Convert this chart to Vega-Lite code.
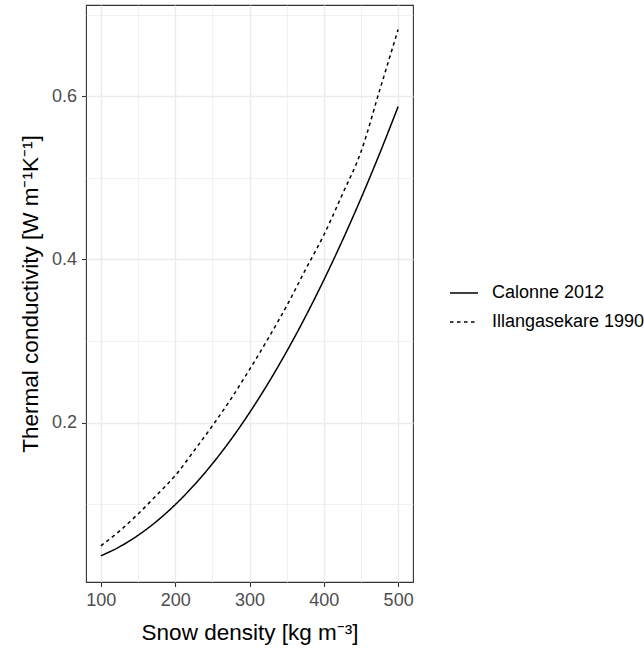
{
  "$schema": "https://vega.github.io/schema/vega-lite/v6.json",
  "width": 327,
  "height": 577,
  "autosize": {"type": "none"},
  "padding": {"left": 86, "top": 5, "right": 231, "bottom": 67},
  "background": "white",
  "config": {
    "font": "Liberation Sans",
    "view": {"stroke": "#333333", "strokeWidth": 1.1},
    "axis": {
      "domain": false,
      "tickColor": "#333333",
      "tickSize": 4.5,
      "tickWidth": 1.1,
      "labelColor": "#4D4D4D",
      "labelFontSize": 18,
      "labelFont": "Liberation Sans",
      "labelOverlap": false,
      "labelFlush": false,
      "titleFont": "Liberation Sans",
      "titleFontSize": 22.5,
      "titleFontWeight": "normal",
      "titleColor": "#000000",
      "gridColor": "#EBEBEB"
    }
  },
  "data": {
    "values": [
      {"density": 100, "k": 0.0367, "model": "Calonne 2012"},
      {"density": 125, "k": 0.0477, "model": "Calonne 2012"},
      {"density": 150, "k": 0.0618, "model": "Calonne 2012"},
      {"density": 175, "k": 0.0790, "model": "Calonne 2012"},
      {"density": 200, "k": 0.0994, "model": "Calonne 2012"},
      {"density": 225, "k": 0.1229, "model": "Calonne 2012"},
      {"density": 250, "k": 0.1495, "model": "Calonne 2012"},
      {"density": 275, "k": 0.1792, "model": "Calonne 2012"},
      {"density": 300, "k": 0.2121, "model": "Calonne 2012"},
      {"density": 325, "k": 0.2481, "model": "Calonne 2012"},
      {"density": 350, "k": 0.2872, "model": "Calonne 2012"},
      {"density": 375, "k": 0.3294, "model": "Calonne 2012"},
      {"density": 400, "k": 0.3748, "model": "Calonne 2012"},
      {"density": 425, "k": 0.4233, "model": "Calonne 2012"},
      {"density": 450, "k": 0.4749, "model": "Calonne 2012"},
      {"density": 475, "k": 0.5296, "model": "Calonne 2012"},
      {"density": 500, "k": 0.5875, "model": "Calonne 2012"},
      {"density": 100, "k": 0.049, "model": "Illangasekare 1990"},
      {"density": 125, "k": 0.067, "model": "Illangasekare 1990"},
      {"density": 150, "k": 0.088, "model": "Illangasekare 1990"},
      {"density": 175, "k": 0.111, "model": "Illangasekare 1990"},
      {"density": 200, "k": 0.135, "model": "Illangasekare 1990"},
      {"density": 225, "k": 0.165, "model": "Illangasekare 1990"},
      {"density": 250, "k": 0.196, "model": "Illangasekare 1990"},
      {"density": 275, "k": 0.229, "model": "Illangasekare 1990"},
      {"density": 300, "k": 0.265, "model": "Illangasekare 1990"},
      {"density": 325, "k": 0.303, "model": "Illangasekare 1990"},
      {"density": 350, "k": 0.343, "model": "Illangasekare 1990"},
      {"density": 375, "k": 0.387, "model": "Illangasekare 1990"},
      {"density": 400, "k": 0.430, "model": "Illangasekare 1990"},
      {"density": 425, "k": 0.480, "model": "Illangasekare 1990"},
      {"density": 450, "k": 0.532, "model": "Illangasekare 1990"},
      {"density": 475, "k": 0.607, "model": "Illangasekare 1990"},
      {"density": 500, "k": 0.682, "model": "Illangasekare 1990"}
    ]
  },
  "mark": {"type": "line", "strokeWidth": 1.5, "color": "#000000", "interpolate": "monotone"},
  "encoding": {
    "x": {
      "field": "density",
      "type": "quantitative",
      "scale": {"domain": [80, 520], "nice": false, "zero": false},
      "axis": {
        "title": "Snow density [kg m⁻³]",
        "values": [100, 150, 200, 250, 300, 350, 400, 450, 500],
        "labelExpr": "datum.value % 100 === 0 ? format(datum.value, 'd') : ''",
        "gridWidth": {"condition": {"test": "datum.value % 100 === 0", "value": 1.4}, "value": 0.7},
        "tickOpacity": {"condition": {"test": "datum.value % 100 === 0", "value": 1}, "value": 0},
        "labelPadding": 5,
        "titlePadding": 12
      }
    },
    "y": {
      "field": "k",
      "type": "quantitative",
      "scale": {"domain": [0.0046, 0.712], "nice": false, "zero": false},
      "axis": {
        "title": "Thermal conductivity [W m⁻¹K⁻¹]",
        "values": [0.1, 0.2, 0.3, 0.4, 0.5, 0.6, 0.7],
        "labelExpr": "round(datum.value * 10) % 2 === 0 ? format(datum.value, '.1f') : ''",
        "gridWidth": {"condition": {"test": "round(datum.value * 10) % 2 === 0", "value": 1.4}, "value": 0.7},
        "tickOpacity": {"condition": {"test": "round(datum.value * 10) % 2 === 0", "value": 1}, "value": 0},
        "labelPadding": 5,
        "titlePadding": 9
      }
    },
    "strokeDash": {
      "field": "model",
      "type": "nominal",
      "scale": {"domain": ["Calonne 2012", "Illangasekare 1990"], "range": [[1, 0], [3.5, 3.5]]},
      "legend": {
        "title": null,
        "orient": "none",
        "legendX": 363,
        "legendY": 273,
        "padding": 0,
        "symbolType": "stroke",
        "symbolSize": 784,
        "symbolStrokeWidth": 1.5,
        "symbolStrokeColor": "#000000",
        "labelFontSize": 18,
        "labelColor": "#000000",
        "labelFont": "Liberation Sans",
        "labelOffset": 13,
        "rowPadding": 5
      }
    }
  }
}
